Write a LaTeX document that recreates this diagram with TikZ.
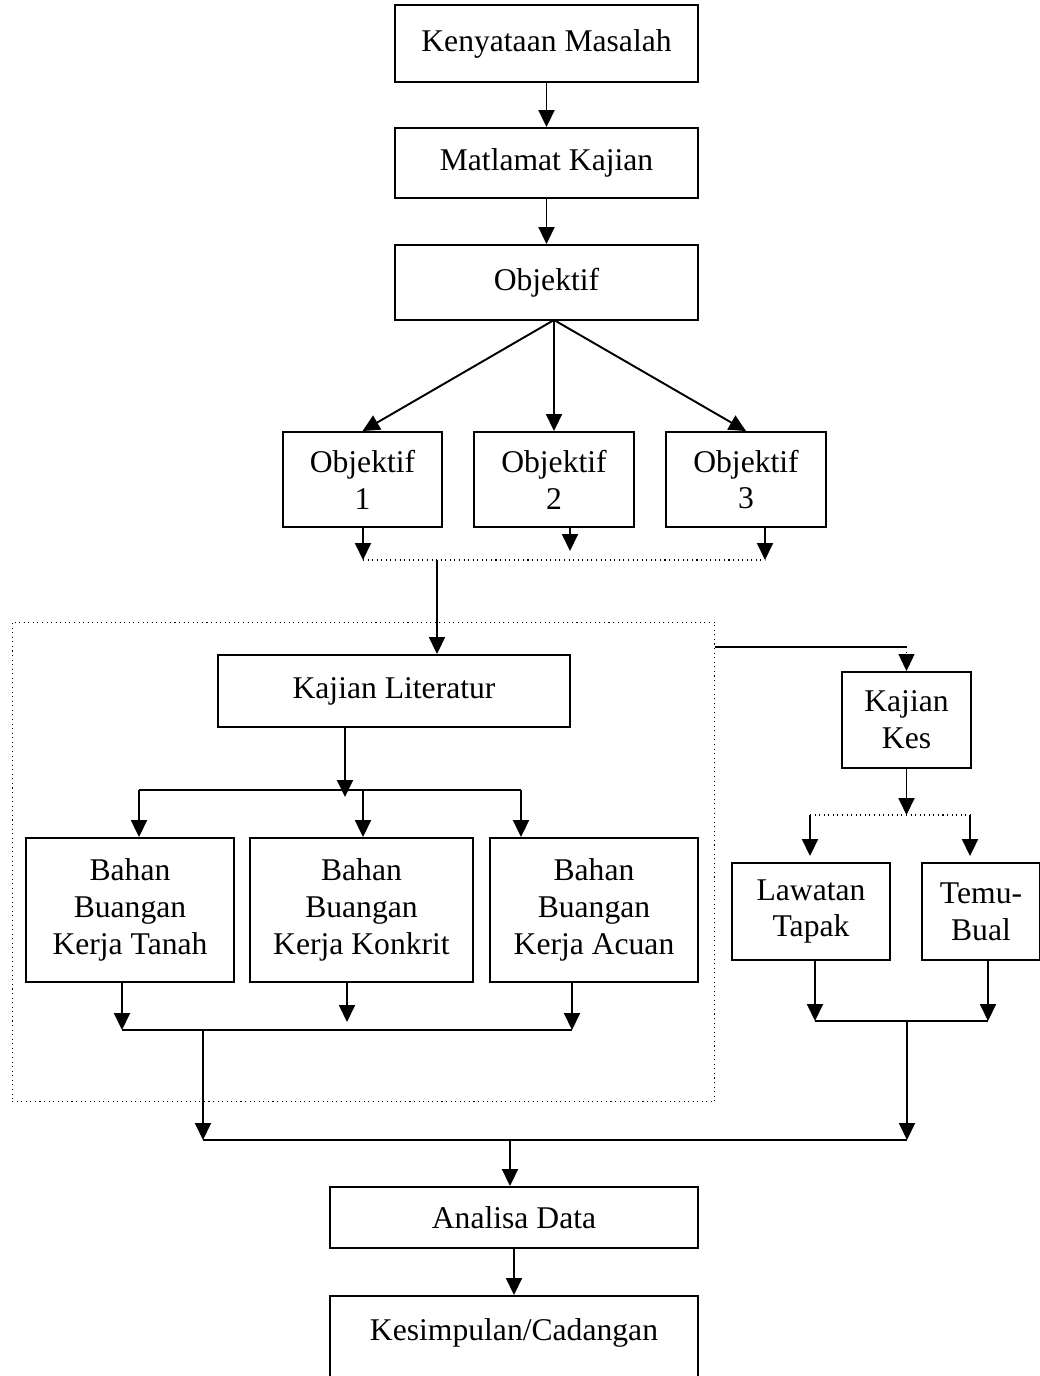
\documentclass[tikz,border=0pt]{standalone}
\usepackage{fontspec}
\setmainfont{Liberation Serif}
\usetikzlibrary{arrows.meta, positioning, calc}

\begin{document}
\begin{tikzpicture}[x=0.02cm, y=-0.02cm,
    box/.style={draw, line width=1.1pt, align=center, inner sep=0pt, font=\fontsize{18}{21}\selectfont},
    arr/.style={line width=1.1pt, -{Triangle[length=0.34cm, width=0.32cm]}},
    garis/.style={line width=1.1pt},
    titik/.style={line width=0.6pt, dotted}]
        \useasboundingbox (0,0) rectangle (1039,1376);

        % Atas
        \node[box, minimum width=6.06cm, minimum height=1.54cm] (kenyataan) at (546.5,43.5) {Kenyataan Masalah};
        \node[box, minimum width=6.06cm, minimum height=1.4cm] (matlamat) at (546.5,163) {Matlamat Kajian};
        \node[box, minimum width=6.06cm, minimum height=1.5cm] (objektif) at (546.5,282.5) {Objektif};

        \node[box, minimum width=3.18cm, minimum height=1.9cm] (obj1) at (362.5,479.5) {Objektif\\1};
        \node[box, minimum width=3.2cm, minimum height=1.9cm] (obj2) at (554,479.5) {Objektif\\2};
        \node[box, minimum width=3.2cm, minimum height=1.9cm] (obj3) at (746,479.5) {Objektif\\3};

        % Kotak literatur
        \node[titik, draw, minimum width=14.06cm, minimum height=9.6cm, inner sep=0pt] (kotak) at (363.5,862) {};
        \node[box, minimum width=7.04cm, minimum height=1.44cm] (literatur) at (394,691) {Kajian Literatur};
        \node[box, minimum width=4.16cm, minimum height=2.88cm] (bahan1) at (130,910) {Bahan\\Buangan\\Kerja Tanah};
        \node[box, minimum width=4.46cm, minimum height=2.88cm] (bahan2) at (361.5,910) {Bahan\\Buangan\\Kerja Konkrit};
        \node[box, minimum width=4.16cm, minimum height=2.88cm] (bahan3) at (594,910) {Bahan\\Buangan\\Kerja Acuan};

        % Kajian kes
        \node[box, minimum width=2.58cm, minimum height=1.92cm] (kes) at (906.5,720) {Kajian\\Kes};
        \node[box, minimum width=3.16cm, minimum height=1.94cm] (lawatan) at (811,911.5) {Lawatan\\Tapak};
        \node[box, minimum width=2.36cm, minimum height=1.94cm] (temu) at (981,911.5) {Temu-\\Bual};

        % Bawah
        \node[box, minimum width=7.36cm, minimum height=1.22cm] (analisa) at (514,1217.5) {Analisa Data};
        \node[box, minimum width=7.36cm, text height=0.9cm, text depth=1.5cm, anchor=north] (kesimpulan) at (514,1295) {Kesimpulan/Cadangan};

        % Anak panah atas
        \draw[arr] (kenyataan) -- (matlamat);
        \draw[arr] (matlamat) -- (objektif);
        \coordinate (pecah) at (554,320);
        \draw[arr] (pecah) -- (obj1.north);
        \draw[arr] (pecah) -- (obj2.north);
        \draw[arr] (pecah) -- (obj3.north);

        \coordinate (t1) at (363,560);
        \coordinate (t2) at (570,551);
        \coordinate (t3) at (765,560);
        \coordinate (tm) at (437,560);
        \draw[arr] (t1 |- obj1.south) -- (t1);
        \draw[arr] (t2 |- obj2.south) -- (t2);
        \draw[arr] (t3 |- obj3.south) -- (t3);
        \draw[titik] (t1) -- (t3);
        \draw[arr] (tm) -- (tm |- literatur.north);

        % Ke kajian kes
        \coordinate (kk) at (906.5,647);
        \draw[garis] (kk -| kotak.east) -- (kk);
        \draw[arr, titik] (kk) -- (kes.north);

        \coordinate (kb) at (906.5,815);
        \coordinate (l1) at (810,815);
        \coordinate (l2) at (970,815);
        \draw[arr] (kes.south) -- (kb);
        \draw[titik] (l1) -- (l2);
        \draw[arr] (l1) -- ($(l1 |- lawatan.north)+(0,-6)$);
        \draw[arr] (l2) -- ($(l2 |- temu.north)+(0,-6)$);

        \coordinate (m1) at (815,1021);
        \coordinate (m2) at (988,1021);
        \coordinate (mk) at (907,1021);
        \draw[arr] (m1 |- lawatan.south) -- (m1);
        \draw[arr] (m2 |- temu.south) -- (m2);
        \draw[garis] (m1) -- (m2);

        % Literatur ke bahan
        \coordinate (p) at (345,797);
        \coordinate (b1) at (139,790);
        \coordinate (b2) at (363,790);
        \coordinate (b3) at (521,790);
        \draw[arr] (p |- literatur.south) -- (p);
        \draw[garis] (b1) -- (b3);
        \draw[arr] (b1) -- (b1 |- bahan1.north);
        \draw[arr] (b2) -- (b2 |- bahan2.north);
        \draw[arr] (b3) -- (b3 |- bahan3.north);

        \coordinate (k1) at (122,1030);
        \coordinate (k2) at (347,1022);
        \coordinate (k3) at (572,1030);
        \coordinate (kt) at (203,1030);
        \draw[arr] (k1 |- bahan1.south) -- (k1);
        \draw[arr] (k2 |- bahan2.south) -- (k2);
        \draw[arr] (k3 |- bahan3.south) -- (k3);
        \draw[garis] (k1) -- (k3);

        % Gabung ke analisa
        \coordinate (g1) at (203,1140);
        \coordinate (g2) at (907,1140);
        \coordinate (ga) at (510,1140);
        \draw[arr] (kt) -- (g1);
        \draw[arr] (mk) -- (g2);
        \draw[garis] (g1) -- (g2);
        \draw[arr] (ga) -- (ga |- analisa.north);
        \draw[arr] (analisa.south) -- (kesimpulan.north);
\end{tikzpicture}
\end{document}
